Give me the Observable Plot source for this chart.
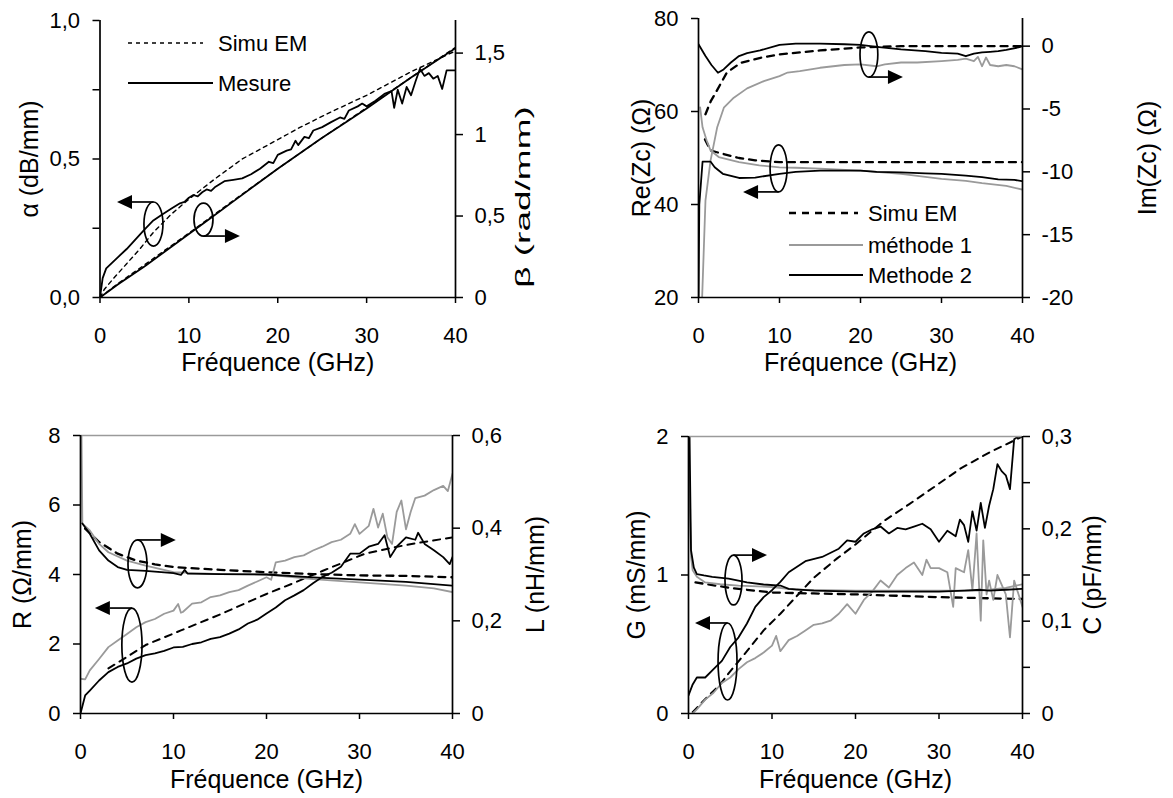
<!DOCTYPE html>
<html><head><meta charset="utf-8">
<script src="https://cdn.jsdelivr.net/npm/d3@7"></script>
<script src="https://cdn.jsdelivr.net/npm/@observablehq/plot@0.6"></script>
<style>
html,body{margin:0;padding:0;background:#fff;}
#root{position:relative;width:1173px;height:798px;overflow:hidden;font-family:"Liberation Sans",Arial,Helvetica,sans-serif;}
.panel{position:absolute;}
.panel svg{overflow:visible;}
g[aria-label$="-axis label"]{font-size:25px;}
#legend{position:absolute;left:0;top:0;}
</style></head>
<body><div id="root"></div>
<script>
// ---------------- DATA ----------------
const freqTicks = [0, 10, 20, 30, 40];

// Panel 1 : alpha (dB/mm, left) and beta (rad/mm, right)
const p1AlphaTicks = [0, 0.25, 0.5, 0.75, 1];
const p1BetaTicks = [0, 0.5, 1, 1.5];
const p1AlphaSimu = [[0,0],[0.5,0.03],[1.5,0.068],[3,0.122],[4.5,0.176],[6,0.235],[8,0.3],[10,0.355],[13,0.43],[16,0.5],[20,0.57],[22.5,0.614],[26,0.67],[30,0.73],[35,0.815],[40,0.89]];
const p1AlphaMes = [[0,0],[0.3,0.07],[0.7,0.105],[2,0.145],[3,0.175],[4,0.21],[5,0.245],[6,0.278],[7,0.3],[8,0.32],[9,0.34],[9.5,0.345],[10,0.36],[10.5,0.37],[11,0.365],[11.5,0.38],[12,0.39],[12.5,0.385],[13,0.4],[14,0.42],[15,0.425],[16,0.43],[17,0.445],[18,0.465],[19,0.49],[19.5,0.485],[20,0.515],[21,0.53],[21.5,0.535],[22,0.566],[22.3,0.55],[23,0.58],[23.5,0.575],[24,0.603],[25,0.615],[26,0.633],[27,0.65],[27.5,0.645],[28,0.675],[29,0.69],[29.5,0.7],[30,0.69],[31,0.71],[32,0.735],[32.8,0.745],[33.1,0.685],[33.5,0.75],[34,0.7],[34.5,0.76],[35,0.73],[35.5,0.78],[36,0.826],[36.5,0.8],[37,0.81],[37.5,0.79],[38,0.8],[38.5,0.753],[39,0.82],[40,0.82]];
const p1BetaSimu = [[0,0],[2,0.085],[5,0.2],[10,0.395],[15,0.595],[20,0.79],[25,0.98],[30,1.165],[35,1.35],[40,1.535]];
const p1BetaMes = [[0,0],[1,0.04],[2,0.08],[5,0.19],[7.5,0.29],[10,0.39],[12.5,0.49],[15,0.59],[17.5,0.69],[20,0.79],[22.5,0.885],[25,0.98],[27.5,1.07],[30,1.16],[32.5,1.255],[35,1.35],[37.5,1.44],[40,1.53]];
const p1Notes = [
  {f0:5.0, f1:7.14, v0:0.184, v1:0.343, edge:"top", tip:1.97},
  {f0:10.63, f1:12.77, v0:0.22, v1:0.339, edge:"bottom", tip:15.8}
];

// Panel 2 : Re(Zc) (left) and Im(Zc) (right)
const p2ReTicks = [20, 40, 60, 80];
const p2ImTicks = [-20, -15, -10, -5, 0];
const p2ReSimu = [[0.8,54],[1.5,51.6],[3,50.9],[5,50.0],[7,49.5],[10,49.1],[20,49.1],[30,49.1],[40,49.1]];
const p2ReM1 = [[0.2,60.9],[0.5,56.6],[1,53.8],[1.5,51.6],[2.5,50.2],[5,49.1],[7.5,48.4],[10,48.0],[12,47.9],[15,47.7],[20,47.3],[25,46.6],[30,45.5],[33,45.1],[35,44.6],[38,44.0],[40,43.2]];
const p2ReM2 = [[0,20],[0.1,40],[0.5,49.2],[1.5,49.2],[2,48.0],[3,46.6],[5,45.7],[7,45.8],[10,46.6],[12,47.0],[15,47.3],[20,47.3],[22,47.0],[25,46.9],[28,46.7],[30,46.6],[33,46.2],[35,45.9],[37,45.4],[39,45.3],[40,45.0]];
const p2ImSimu = [[0.86,-5.42],[1.5,-4.4],[2.3,-3.5],[3.5,-2.1],[5.2,-1.33],[7.65,-0.93],[10,-0.66],[15,-0.34],[20,-0.1],[25,0],[30,0],[40,0]];
const p2ImM1 = [[0.45,-20],[0.86,-12.3],[1.48,-9.13],[2.3,-6.48],[3.13,-4.9],[4.36,-4.1],[6,-3.36],[8.07,-2.78],[10,-2.38],[11,-2.1],[12.5,-1.98],[15,-1.72],[18,-1.5],[20,-1.45],[22,-1.6],[23,-1.45],[25,-1.3],[27,-1.3],[30,-1.19],[32,-1.1],[33,-1.0],[34,-1.2],[34.5,-0.85],[35,-1.6],[35.5,-0.9],[36,-1.5],[37,-1.6],[38,-1.5],[39,-1.6],[40,-1.85]];
const p2ImM2 = [[0,0.15],[0.86,-0.79],[1.6,-1.5],[2.4,-2.12],[3.1,-1.85],[4,-1.3],[5,-0.79],[6,-0.55],[7.6,-0.34],[10,0.1],[12,0.2],[15,0.2],[18,0.15],[20,0.1],[22,-0.05],[25,-0.26],[28,-0.4],[30,-0.53],[32,-0.6],[33,-0.8],[34,-0.6],[35,-0.5],[36,-0.45],[37,-0.4],[38,-0.3],[39.5,-0.1],[40,0]];
const p2Notes = [
  {f0:20.0, f1:22.2, v0:67.3, v1:77.0, edge:"bottom", tip:25.3},
  {f0:8.9, f1:11.0, v0:42.6, v1:52.7, edge:"bottom", tip:5.56}
];

// Panel 3 : R (left) and L (right)
const p3RTicks = [0, 2, 4, 6, 8];
const p3LTicks = [0, 0.2, 0.4, 0.6];
const p3RSimu = [[3,1.3],[4.66,1.57],[7,1.97],[10.8,2.39],[15,2.85],[20,3.44],[22.7,3.73],[26,4.1],[30.6,4.6],[35,4.85],[40,5.07]];
const p3RM1 = [[0,1.0],[0.5,0.98],[1,1.24],[2,1.57],[3,1.91],[4,2.1],[5,2.29],[6,2.48],[7,2.63],[8,2.72],[9,2.87],[10,2.96],[10.5,3.15],[10.8,2.9],[11,2.92],[12,3.16],[13,3.2],[14,3.35],[15,3.4],[16,3.49],[17,3.55],[18,3.68],[19,3.8],[20,3.92],[20.5,3.85],[21,4.35],[22,4.4],[23,4.5],[24,4.55],[25,4.69],[26,4.8],[27,4.93],[28,5.0],[29,5.17],[29.5,5.45],[30,5.17],[31,5.4],[31.5,5.89],[32,5.35],[32.5,5.75],[33,5.07],[33.5,4.88],[34,5.8],[34.5,6.13],[35,5.3],[35.5,5.8],[36,6.2],[37,6.27],[38,6.43],[39,6.55],[39.5,6.4],[40,6.9]];
const p3RM2 = [[0,0],[0.5,0.52],[1,0.66],[2,0.95],[3,1.19],[4,1.34],[5,1.44],[6,1.58],[7,1.68],[8,1.73],[9,1.8],[10,1.9],[11,1.92],[12,2.0],[13,2.05],[14,2.15],[15,2.2],[16,2.3],[17,2.42],[18,2.59],[19,2.7],[20,2.88],[21,3.05],[22,3.26],[23,3.4],[24,3.55],[25,3.75],[26,3.93],[27,4.05],[28,4.22],[29,4.6],[30,4.6],[31,4.8],[32,4.88],[32.7,5.13],[33.3,4.5],[34,4.8],[35,5.07],[36,5.0],[36.3,5.2],[37,4.88],[38,4.7],[39,4.5],[39.7,4.3],[40,4.5]];
const p3LSimu = [[0.5,0.399],[2,0.37],[4,0.345],[6,0.33],[8,0.322],[10,0.316],[15,0.31],[20,0.305],[25,0.301],[30,0.298],[35,0.297],[40,0.294]];
const p3LM1 = [[0.1,0.62],[0.2,0.41],[1,0.395],[2,0.366],[3,0.348],[5,0.33],[7,0.319],[10,0.305],[15,0.301],[20,0.3],[25,0.29],[30,0.283],[35,0.276],[38,0.27],[40,0.262]];
const p3LM2 = [[0.2,0.41],[1,0.388],[2,0.352],[3,0.33],[4,0.316],[5,0.31],[7,0.308],[10,0.303],[10.8,0.299],[11.2,0.31],[11.5,0.302],[15,0.301],[20,0.3],[25,0.294],[30,0.289],[35,0.284],[40,0.276]];
const p3Notes = [
  {f0:5.16, f1:7.2, v0:3.6, v1:4.98, edge:"top", tip:10.3},
  {f0:4.5, f1:6.67, v0:0.89, v1:3.02, edge:"top", tip:1.6}
];

// Panel 4 : G (left) and C (right)
const p4GTicks = [0, 1, 2];
const p4CTicks = [0, 0.05, 0.1, 0.15, 0.2, 0.25, 0.3];
const p4GSimu = [[0.5,0.01],[1.84,0.094],[3.8,0.21],[4.8,0.29],[7,0.45],[9,0.6],[11,0.72],[13,0.85],[15,0.98],[17.8,1.12],[20,1.22],[23.4,1.39],[26.4,1.51],[30,1.66],[32.6,1.77],[36.2,1.89],[40,2.0]];
const p4GM1 = [[0.5,0],[1,0.03],[2,0.1],[3,0.15],[4,0.22],[5,0.26],[6,0.32],[7,0.37],[8,0.4],[9,0.44],[10,0.49],[10.5,0.56],[11,0.45],[12,0.53],[13,0.56],[14,0.6],[15,0.64],[16,0.65],[17,0.67],[18,0.72],[19,0.79],[20,0.72],[21,0.82],[22,0.88],[23,0.96],[24,0.91],[25,1.0],[26,1.05],[27,1.09],[28,1.0],[28.5,1.11],[29,1.05],[30,1.05],[31,1.02],[31.7,0.77],[32,1.05],[33,1.02],[33.5,1.18],[34,0.89],[34.5,1.3],[35,0.67],[35.3,1.25],[35.7,0.86],[36,0.96],[36.5,0.82],[37,1.0],[37.5,0.93],[38,0.86],[38.5,0.55],[39,0.96],[40,0.77]];
const p4GM2 = [[0,0.13],[0.5,0.21],[1,0.26],[2,0.26],[3,0.32],[4,0.38],[5,0.48],[6,0.55],[7,0.65],[8,0.77],[9,0.84],[10,0.89],[11,0.95],[12,1.02],[14,1.1],[16,1.13],[18,1.19],[19,1.25],[20,1.24],[21,1.3],[22,1.33],[23,1.35],[24,1.3],[25,1.34],[26,1.33],[27,1.35],[28,1.37],[29,1.33],[30,1.24],[31,1.32],[32,1.28],[32.5,1.4],[33,1.36],[33.5,1.24],[34,1.46],[34.5,1.32],[35,1.52],[35.5,1.34],[36,1.5],[36.5,1.62],[37,1.8],[37.5,1.75],[38,1.72],[38.5,1.62],[39,1.98],[39.5,2.0],[40,2.0]];
const p4CSimu = [[0.84,0.142],[5,0.136],[10,0.131],[15,0.13],[20,0.129],[30,0.126],[40,0.124]];
const p4CM1 = [[0,0.28],[0.3,0.17],[0.5,0.155],[1,0.148],[2,0.142],[3.8,0.14],[6,0.1386],[10,0.137],[13,0.134],[20,0.133],[30,0.133],[35,0.133],[38,0.136],[40,0.14]];
const p4CM2 = [[0.1,0.32],[0.3,0.177],[0.64,0.158],[1,0.151],[1.84,0.1495],[2.84,0.148],[4.8,0.146],[7,0.142],[9,0.1397],[11,0.1386],[12,0.135],[15,0.133],[20,0.132],[25,0.132],[30,0.132],[33,0.133],[35,0.134],[36,0.133],[38,0.134],[40,0.135]];
const p4Notes = [
  {f0:4.43, f1:6.47, v0:0.78, v1:1.14, edge:"top", tip:9.46},
  {f0:3.6, f1:5.87, v0:0.094, v1:0.65, edge:"top", tip:0.84}
];

// Texts
const xTitle = "Fréquence (GHz)";
const betaTitle = "β (rad/mm)";
const legend1 = ["Simu EM", "Mesure"];
const legend2 = ["Simu EM", "méthode 1", "Methode 2"];

// ---------------- RENDER ----------------
const BLACK = "#000", GRAY = "#9a9a9a";
const comma = v => String(Math.round(v * 1000) / 1000).replace(".", ",");

function notesMark(notes) {
  return (index, scales) => {
    const g = d3.create("svg:g").attr("fill", "none").attr("stroke", BLACK).attr("stroke-width", 1.7);
    for (const n of notes) {
      const x0 = scales.x(n.f0), x1 = scales.x(n.f1);
      const yT = scales.y(n.v1), yB = scales.y(n.v0);
      const cx = (x0 + x1) / 2, cy = (yT + yB) / 2;
      g.append("ellipse").attr("cx", cx).attr("cy", cy).attr("rx", Math.abs(x1 - x0) / 2).attr("ry", Math.abs(yB - yT) / 2);
      const ys = n.edge === "top" ? yT : yB;
      const xt = scales.x(n.tip);
      const dir = Math.sign(xt - cx), head = 15, hw = 7;
      g.append("path").attr("d", `M${cx},${ys}H${xt - dir * head}`);
      g.append("path").attr("d", `M${xt},${ys}L${xt - dir * head},${ys - hw}L${xt - dir * head},${ys + hw}Z`)
        .attr("fill", BLACK).attr("stroke", "none");
    }
    return g.node();
  };
}

function makePanel(c) {
  const series = c.series.map(s => Plot.line(s.data, {
    x: d => d[0], y: s.right ? (d => c.toL(d[1])) : (d => d[1]),
    stroke: s.stroke, strokeWidth: s.width ?? 1.8, strokeDasharray: s.dash, clip: true, curve: "linear"
  }));
  const toR = c.toR;
  const marks = [
    ...series,
    ...(c.topRule ? [Plot.ruleY([c.yDomain[1]], {stroke: GRAY, strokeWidth: 1.6})] : []),
    Plot.ruleX([0, 40], {stroke: BLACK, strokeWidth: 1.7}),
    Plot.ruleY([c.yDomain[0]], {stroke: BLACK, strokeWidth: 1.7}),
    Plot.axisX({ticks: freqTicks, tickSize: 6, tickPadding: 24, strokeWidth: 1.5, tickFormat: d => String(d),
      label: xTitle, labelAnchor: "center", labelOffset: c.xLabelOffset, labelArrow: "none"}),
    Plot.axisY(c.leftTicks, {anchor: "left", tickSize: 7, tickPadding: 13, strokeWidth: 1.5, tickFormat: c.leftFormat,
      label: c.leftLabel, labelAnchor: "center", labelOffset: c.leftLabelOffset, labelArrow: "none"}),
    Plot.axisY(c.rightTicks.map(c.toL), {anchor: "right", tickSize: 7, tickPadding: 12, strokeWidth: 1.5,
      tickFormat: d => c.rightFormat(toR(d)),
      label: c.rightLabel, labelAnchor: "center", labelOffset: c.rightLabelOffset, labelArrow: "none"}),
    ...(c.extra || []),
    notesMark(c.notes)
  ];
  const chart = Plot.plot({
    width: c.width, height: c.height,
    marginLeft: c.m[0], marginRight: c.m[1], marginTop: c.m[2], marginBottom: c.m[3],
    x: {domain: [0, 40]},
    y: {domain: c.yDomain},
    style: {fontFamily: '"Liberation Sans", Arial, Helvetica, sans-serif', fontSize: "22px", color: BLACK, background: "transparent", overflow: "visible"},
    marks
  });
  const div = document.createElement("div");
  div.className = "panel";
  div.style.left = c.pos[0] + "px";
  div.style.top = c.pos[1] + "px";
  div.appendChild(chart);
  document.getElementById("root").appendChild(div);
  return chart;
}

const dashThin = "4,4", dashThick = "7,6";

// Panel 1
const toL1 = v => v / 1.7, toR1 = d => d * 1.7;
const c1 = makePanel({
  pos: [0, 0], width: 586, height: 395, m: [99.5, 131, 20, 98], yDomain: [0, 1],
  toL: toL1, toR: toR1,
  leftTicks: p1AlphaTicks, leftFormat: d => (Math.abs(d * 2 - Math.round(d * 2)) < 1e-9 ? d.toFixed(1).replace(".", ",") : ""),
  rightTicks: p1BetaTicks, rightFormat: comma,
  leftLabel: "α (dB/mm)", leftLabelOffset: 80, rightLabel: null, rightLabelOffset: 0, xLabelOffset: 73,
  series: [
    {data: p1AlphaSimu, stroke: BLACK, dash: dashThin, width: 1.4},
    {data: p1BetaSimu, right: true, stroke: BLACK, dash: dashThin, width: 1.4},
    {data: p1BetaMes, right: true, stroke: BLACK},
    {data: p1AlphaMes, stroke: BLACK}
  ],
  extra: [Plot.text([betaTitle], {text: d => d, frameAnchor: "right", textAnchor: "middle", rotate: -90, dx: 74, dy: 38, lineAnchor: "bottom", fontSize: 20})],
  notes: p1Notes
});
// stretch the beta title along its direction, as in the reference
d3.select(c1).selectAll("text").filter(function() { return this.textContent === betaTitle; })
  .each(function() {
    const t = this.getAttribute("transform") || "";
    this.setAttribute("transform", t + " scale(1.85,1)");
  });

// Panel 2
const toL2 = v => 20 + (v + 20) * 60 / 22.2, toR2 = d => (d - 20) * 22.2 / 60 - 20;
makePanel({
  pos: [586, 0], width: 587, height: 395, m: [112, 151, 18, 98], yDomain: [20, 80],
  toL: toL2, toR: toR2,
  leftTicks: p2ReTicks, leftFormat: d => String(d),
  rightTicks: p2ImTicks, rightFormat: v => String(Math.round(v)),
  leftLabel: "Re(Zc) (Ω)", leftLabelOffset: 66, rightLabel: "Im(Zc) (Ω)", rightLabelOffset: 133, xLabelOffset: 73,
  series: [
    {data: p2ReSimu, stroke: BLACK, dash: dashThick, width: 2.3},
    {data: p2ImSimu, right: true, stroke: BLACK, dash: dashThick, width: 2.3},
    {data: p2ReM1, stroke: GRAY},
    {data: p2ImM1, right: true, stroke: GRAY},
    {data: p2ReM2, stroke: BLACK},
    {data: p2ImM2, right: true, stroke: BLACK}
  ],
  notes: p2Notes
});

// Panel 3
const toL3 = v => v * 8 / 0.6, toR3 = d => d * 0.6 / 8;
makePanel({
  pos: [0, 395], width: 586, height: 403, m: [80, 134, 40, 85], yDomain: [0, 8], topRule: true,
  toL: toL3, toR: toR3,
  leftTicks: p3RTicks, leftFormat: d => String(d),
  rightTicks: p3LTicks, rightFormat: comma,
  leftLabel: "R (Ω/mm)", leftLabelOffset: 67, rightLabel: "L (nH/mm)", rightLabelOffset: 91, xLabelOffset: 74,
  series: [
    {data: p3RSimu, stroke: BLACK, dash: dashThick, width: 2},
    {data: p3LSimu, right: true, stroke: BLACK, dash: dashThick, width: 2.3},
    {data: p3RM1, stroke: GRAY},
    {data: p3LM1, right: true, stroke: GRAY},
    {data: p3RM2, stroke: BLACK},
    {data: p3LM2, right: true, stroke: BLACK}
  ],
  notes: p3Notes
});

// Panel 4
const toL4 = v => v * 2 / 0.3, toR4 = d => d * 0.3 / 2;
makePanel({
  pos: [586, 395], width: 587, height: 403, m: [102, 151, 41, 85], yDomain: [0, 2], topRule: true,
  toL: toL4, toR: toR4,
  leftTicks: p4GTicks, leftFormat: d => String(d),
  rightTicks: p4CTicks, rightFormat: v => (Math.abs(v * 10 - Math.round(v * 10)) < 1e-6 ? comma(v) : ""),
  leftLabel: "G (mS/mm)", leftLabelOffset: 61, rightLabel: "C (pF/mm)", rightLabelOffset: 78, xLabelOffset: 74,
  series: [
    {data: p4GSimu, stroke: BLACK, dash: dashThick, width: 2},
    {data: p4CSimu, right: true, stroke: BLACK, dash: dashThick, width: 2.3},
    {data: p4GM1, stroke: GRAY},
    {data: p4CM1, right: true, stroke: GRAY},
    {data: p4GM2, stroke: BLACK},
    {data: p4CM2, right: true, stroke: BLACK}
  ],
  notes: p4Notes
});

// Legends (overlay)
const lg = d3.select("#root").append("svg").attr("id", "legend").attr("width", 1173).attr("height", 798)
  .style("font-family", '"Liberation Sans", Arial, Helvetica, sans-serif').style("font-size", "22px");
function legendRow(x1, x2, y, tx, label, stroke, dash, w) {
  lg.append("line").attr("x1", x1).attr("x2", x2).attr("y1", y).attr("y2", y)
    .attr("stroke", stroke).attr("stroke-width", w).attr("stroke-dasharray", dash || null);
  lg.append("text").attr("x", tx).attr("y", y + 8).attr("fill", BLACK).text(label);
}
legendRow(128, 203, 43, 218, legend1[0], BLACK, dashThin, 1.4);
legendRow(128, 213, 83, 218, legend1[1], BLACK, null, 1.8);
legendRow(789, 858, 213, 868, legend2[0], BLACK, dashThick, 2.6);
legendRow(789, 863, 245, 868, legend2[1], GRAY, null, 1.9);
legendRow(789, 863, 275, 868, legend2[2], BLACK, null, 1.9);
</script>
</body></html>
